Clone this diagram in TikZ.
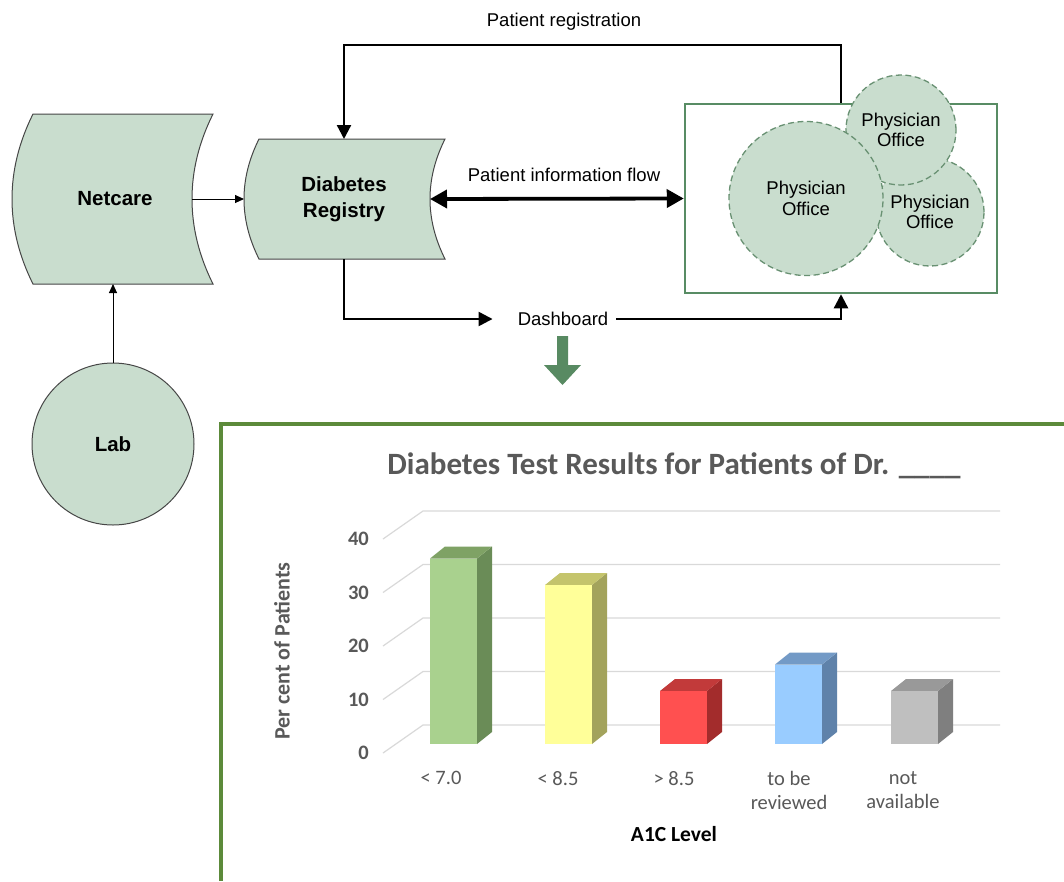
\documentclass[tikz,border=0pt]{standalone}
\usepackage{fontspec}
\setmainfont{Liberation Sans}
\newfontfamily\calib{Carlito}
\usetikzlibrary{arrows.meta}
\definecolor{nodefill}{RGB}{201,221,206}
\definecolor{shapeline}{RGB}{70,70,70}
\definecolor{circline}{RGB}{105,145,115}
\definecolor{boxgreen}{RGB}{88,140,100}
\definecolor{framegreen}{RGB}{92,138,58}
\definecolor{arrowgreen}{RGB}{88,138,98}
\definecolor{chartgray}{RGB}{89,89,89}
\definecolor{gridc}{RGB}{217,217,217}
\definecolor{gF}{HTML}{A9D18E}\definecolor{gS}{HTML}{6A8C57}\definecolor{gT}{HTML}{7FA265}
\definecolor{yF}{HTML}{FFFF99}\definecolor{yS}{HTML}{A3A35C}\definecolor{yT}{HTML}{C4C46C}
\definecolor{rF}{HTML}{FF5050}\definecolor{rS}{HTML}{A32C2C}\definecolor{rT}{HTML}{C23A3A}
\definecolor{bF}{HTML}{99CCFF}\definecolor{bS}{HTML}{5F82AA}\definecolor{bT}{HTML}{739AC6}
\definecolor{aF}{HTML}{BFBFBF}\definecolor{aS}{HTML}{7F7F7F}\definecolor{aT}{HTML}{999999}
\newcommand\chartbar[5]{%
  \pgfmathsetmacro\barTop{744-#2*5.3}%
  \fill[#4] (#1+47,744) -- (#1+62,732) -- (#1+62,\barTop-12) -- (#1+47,\barTop) -- cycle;
  \fill[#5] (#1,\barTop) -- (#1+47,\barTop) -- (#1+62,\barTop-12) -- (#1+15,\barTop-12) -- cycle;
  \fill[#3] (#1,744) rectangle (#1+47,\barTop);
}
\begin{document}
\begin{tikzpicture}[x=1pt,y=-1pt,
  lbl/.style={font=\fontsize{18.5}{22}\selectfont, inner sep=3pt},
  shapelbl/.style={font=\bfseries\fontsize{20.5}{25.5}\selectfont, align=center},
  storedata/.style={fill=nodefill, draw=shapeline, line width=1pt},
  pcircle/.style={circle, fill=nodefill, draw=circline, dash pattern=on 6pt off 3.5pt, line width=1.3pt, align=center, font=\fontsize{18.5}{20.5}\selectfont, inner sep=0pt},
  thinarrow/.style={-{Triangle[length=9pt,width=8pt]}, line width=1pt},
  medarrow/.style={-{Triangle[length=14pt,width=14pt]}, line width=2.3pt},
  bigdouble/.style={{Triangle[length=17pt,width=18pt]}-{Triangle[length=17pt,width=18pt]}, line width=3.8pt},
  ticklbl/.style={font=\calib\bfseries\fontsize{20.5}{22}\selectfont, text=chartgray, anchor=east, inner sep=2pt},
  catlbl/.style={font=\calib\fontsize{20.5}{24}\selectfont, text=chartgray, align=center, anchor=north, inner sep=0pt}
]
\useasboundingbox (0,0) rectangle (1064,881);
\fill[white] (0,0) rectangle (1064,881);

% ---------- stored data shapes ----------
\draw[storedata] (33,114) -- (213,114) .. controls (185,170) and (185,228) .. (213,284) -- (33,284) .. controls (5,228) and (5,170) .. (33,114) -- cycle;
\node[shapelbl] (net) at (115,199) {Netcare};
\draw[storedata] (259,139) -- (445,139) .. controls (425,179) and (425,219) .. (445,259) -- (259,259) .. controls (239,219) and (239,179) .. (259,139) -- cycle;
\node[shapelbl] (reg) at (344,199) {Diabetes\\Registry};
\coordinate (netR) at (192,199);
\coordinate (netB) at (113,284);
\coordinate (regL) at (244,199);
\coordinate (regR) at (430,199);
\coordinate (regT) at (344,139);
\coordinate (regB) at (344,259);

% ---------- Lab ----------
\node[circle, fill=nodefill, draw=shapeline, line width=1pt, minimum size=162pt, font=\bfseries\fontsize{20.5}{24}\selectfont] (lab) at (113,444) {Lab};

% ---------- physician box ----------
\node[draw=boxgreen, line width=2.5pt, minimum width=312pt, minimum height=189pt] (phys) at (841,198.5) {};
\node[pcircle, minimum size=108pt] (po3) at (930,212) {Physician\\Office};
\node[pcircle, minimum size=110pt] (po2) at (901,130) {Physician\\Office};
\node[pcircle, minimum size=154pt] (po1) at (806,198.5) {Physician\\Office};

% ---------- connectors ----------
\draw[thinarrow] (netR) -- (regL);
\draw[thinarrow] (lab.north) -- (netB);
\node[lbl] (preg) at (564,22) {Patient registration};
\draw[medarrow] (phys.north) -- ([yshift=58pt]phys.north) -| (regT);
\node[lbl] (pinfo) at (564,175) {Patient information flow};
\draw[bigdouble] (regR) -- (phys.west);
\node[lbl] (dash) at (563,319) {Dashboard};
\draw[medarrow] (regB) |- ([xshift=-22pt]dash.west);
\draw[medarrow] ([xshift=5pt]dash.east) -| (phys.south);
\fill[arrowgreen] (557,336) -- (568,336) -- (568,365) -- (581,365) -- (562.5,385) -- (544,365) -- (557,365) -- cycle;

% ---------- chart frame ----------
\draw[framegreen, line width=4pt] (221,881) -- (221,424) -- (1066,424);

% ---------- chart ----------
\node[font=\calib\bfseries\fontsize{31}{33}\selectfont, text=chartgray] (title) at (674,466) {Diabetes Test Results for Patients of Dr. \_\_\_\_};
\foreach \k in {0,...,4} {
  \pgfmathsetmacro\gy{725-53.5*\k}
  \draw[gridc, line width=1.2pt] (383,\gy+28) -- (423,\gy) -- (1000,\gy);
  \node[ticklbl] (tick\k) at (371,\gy+28) {\the\numexpr 10*\k\relax};
}
\chartbar{430}{35}{gF}{gS}{gT}
\chartbar{545}{30}{yF}{yS}{yT}
\chartbar{660}{10}{rF}{rS}{rT}
\chartbar{775}{15}{bF}{bS}{bT}
\chartbar{891}{10}{aF}{aS}{aT}
\node[font=\calib\bfseries\fontsize{22}{24}\selectfont, text=chartgray, rotate=90] (ylab) at (282,651) {Per cent of Patients};
\node[catlbl] (c1) at (441,771) {< 7.0};
\node[catlbl] (c2) at (558,771) {< 8.5};
\node[catlbl] (c3) at (674,771) {> 8.5};
\node[catlbl] (c4) at (789,771) {to be\\reviewed};
\node[catlbl] (c5) at (903,771) {not\\available};
\node[font=\calib\bfseries\fontsize{21.5}{23}\selectfont] (xlab) at (674,834) {A1C Level};
\end{tikzpicture}
\end{document}
